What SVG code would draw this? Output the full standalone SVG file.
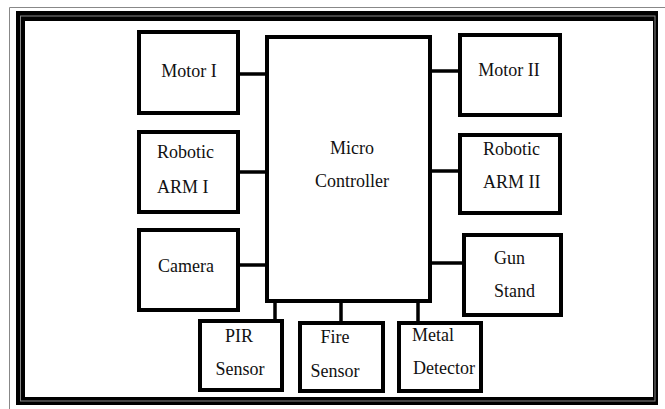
<svg xmlns="http://www.w3.org/2000/svg" width="665" height="409" viewBox="0 0 665 409">
<style>
.box{fill:#fff;stroke:#000;stroke-width:4}
.conn line{stroke:#000;stroke-width:3.5}
.c{text-anchor:middle}
</style>
<rect x="0" y="0" width="665" height="409" fill="#fff"/>
<path d="M9.5,409 V7.5 H665" fill="none" stroke="#888" stroke-width="1"/>
<g id="frame">
<path d="M16,11 H658 V405 H16 Z M25,21 V397 H653 V21 Z" fill="#000" fill-rule="evenodd"/>
<rect x="20.5" y="16" width="634.5" height="385" fill="none" stroke="#888" stroke-width="1"/>
</g>
<g class="conn" id="connectors">
<line x1="240" y1="74" x2="267" y2="74"/>
<line x1="240" y1="172" x2="267" y2="172"/>
<line x1="240" y1="265" x2="267" y2="265"/>
<line x1="430" y1="71" x2="460" y2="71"/>
<line x1="430" y1="171" x2="460" y2="171"/>
<line x1="430" y1="263" x2="465" y2="263"/>
<line x1="275" y1="301" x2="275" y2="321"/>
<line x1="341" y1="301" x2="341" y2="323"/>
<line x1="418" y1="301" x2="418" y2="323"/>
</g>
<g font-family="'Liberation Serif', 'Times New Roman', Tinos, 'DejaVu Serif', serif" font-size="18" fill="#111">
<g id="micro">
<rect class="box" x="267" y="37" width="163" height="264"/>
<text class="c" x="352" y="154">Micro</text>
<text class="c" x="352" y="187">Controller</text>
</g>
<g id="motor1">
<rect class="box" x="139" y="32" width="99" height="81"/>
<text class="c" x="189" y="77">Motor I</text>
</g>
<g id="arm1">
<rect class="box" x="139" y="132" width="99" height="80"/>
<text x="157" y="158">Robotic</text>
<text x="157" y="193">ARM I</text>
</g>
<g id="camera">
<rect class="box" x="139" y="230" width="99" height="80"/>
<text x="158" y="272">Camera</text>
</g>
<g id="motor2">
<rect class="box" x="460" y="35" width="100" height="80"/>
<text class="c" x="509" y="76">Motor II</text>
</g>
<g id="arm2">
<rect class="box" x="460" y="135" width="100" height="78"/>
<text x="483" y="155">Robotic</text>
<text x="483" y="188">ARM II</text>
</g>
<g id="gunstand">
<rect class="box" x="464" y="235" width="97" height="80"/>
<text x="494" y="264">Gun</text>
<text x="494" y="297">Stand</text>
</g>
<g id="pir">
<rect class="box" x="200" y="321" width="82" height="69"/>
<text class="c" x="239" y="342">PIR</text>
<text class="c" x="240" y="375">Sensor</text>
</g>
<g id="fire">
<rect class="box" x="300" y="323" width="83" height="68"/>
<text class="c" x="335" y="343">Fire</text>
<text class="c" x="335" y="377">Sensor</text>
</g>
<g id="metal">
<rect class="box" x="399" y="323" width="82" height="68"/>
<text x="412" y="341">Metal</text>
<text x="413" y="374">Detector</text>
</g>
</g>
</svg>
